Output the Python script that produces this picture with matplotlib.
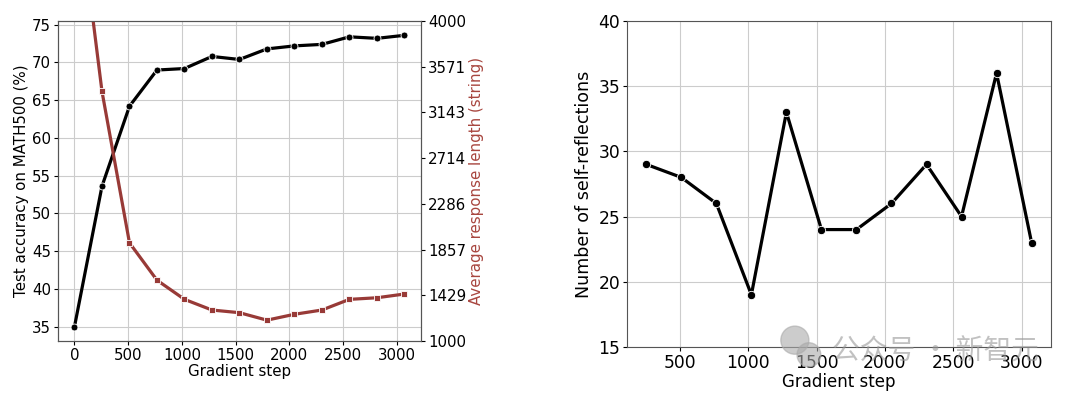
import numpy as np
import matplotlib
matplotlib.use('Agg')
import matplotlib.pyplot as plt
from matplotlib.patches import Ellipse

steps = [0, 256, 512, 768, 1024, 1280, 1536, 1792, 2048, 2304, 2560, 2816, 3072]
accuracy = [35.0, 53.6, 64.2, 69.0, 69.2, 70.8, 70.4, 71.8, 72.2, 72.4, 73.4, 73.2, 73.6]
resp_len = [5400, 3340, 1920, 1570, 1390, 1290, 1265, 1195, 1250, 1290, 1390, 1405, 1440]

refl_steps = [256, 512, 768, 1024, 1280, 1536, 1792, 2048, 2304, 2560, 2816, 3072]
reflections = [29, 28, 26, 19, 33, 24, 24, 26, 29, 25, 36, 23]

red = '#983a37'
spine_col = '#555555'
fs_left = 10.8

fig = plt.figure(figsize=(10.8, 3.96), dpi=100)

# left panel: accuracy + response length
ax1 = fig.add_axes([0.0537, 0.139, 0.336, 0.808])
ax1.plot(steps, accuracy, 'o-', color='black', linewidth=2.3, markersize=5,
         markeredgecolor='white', markeredgewidth=0.6, zorder=3)
ax1.set_ylim(33.1, 75.5)
ax1.set_yticks(range(35, 80, 5))
ax1.set_xticks(range(0, 3500, 500))
ax1.set_xlabel('Gradient step', fontsize=fs_left, labelpad=1)
ax1.set_ylabel('Test accuracy on MATH500 (%)', fontsize=fs_left, labelpad=2)
ax1.tick_params(labelsize=fs_left, length=3, pad=2)
ax1.grid(True, color='#cccccc', linewidth=0.8)
ax1.set_axisbelow(True)

ax2 = ax1.twinx()
ax2.plot(steps, resp_len, 's-', color=red, linewidth=2.3, markersize=4.5,
         markeredgecolor='white', markeredgewidth=0.6, zorder=2)
ax2.set_ylim(1000, 4000)
ticks2 = np.linspace(1000, 4000, 8)
ax2.set_yticks(ticks2)
ax2.set_yticklabels([str(int(round(v))) for v in ticks2])
ax2.set_ylabel('Average response length (string)', fontsize=fs_left, color='#a8463f', labelpad=2)
ax2.tick_params(labelsize=fs_left, length=3, pad=2)

for ax in (ax1, ax2):
    for s in ax.spines.values():
        s.set_color(spine_col)

# right panel: self-reflections
ax3 = fig.add_axes([0.5806, 0.124, 0.3924, 0.823])
ax3.plot(refl_steps, reflections, 'o-', color='black', linewidth=2.3, markersize=6,
         markeredgecolor='white', markeredgewidth=0.6)
ax3.set_ylim(15, 40)
ax3.set_yticks(range(15, 45, 5))
ax3.set_xticks(range(500, 3500, 500))
ax3.set_xlabel('Gradient step', fontsize=12, labelpad=1)
ax3.set_ylabel('Number of self-reflections', fontsize=12.6, labelpad=4)
ax3.tick_params(labelsize=12.3, length=3, pad=2)
ax3.grid(True, color='#cccccc', linewidth=0.8)
ax3.set_axisbelow(True)
for s in ax3.spines.values():
    s.set_color(spine_col)

# watermark
fig.text(0.770, 0.112, '公众号 · 新智元', fontsize=20, color='#999999', alpha=0.6,
         family=['Noto Sans CJK SC', 'DejaVu Sans'], va='center', ha='left')
fig.patches.append(Ellipse((0.736, 0.141), 0.026, 0.071, transform=fig.transFigure,
                           color='#aaaaaa', alpha=0.6, figure=fig))
fig.patches.append(Ellipse((0.749, 0.104), 0.022, 0.061, transform=fig.transFigure,
                           color='#aaaaaa', alpha=0.6, figure=fig))

fig.savefig('out.png', dpi=100)
